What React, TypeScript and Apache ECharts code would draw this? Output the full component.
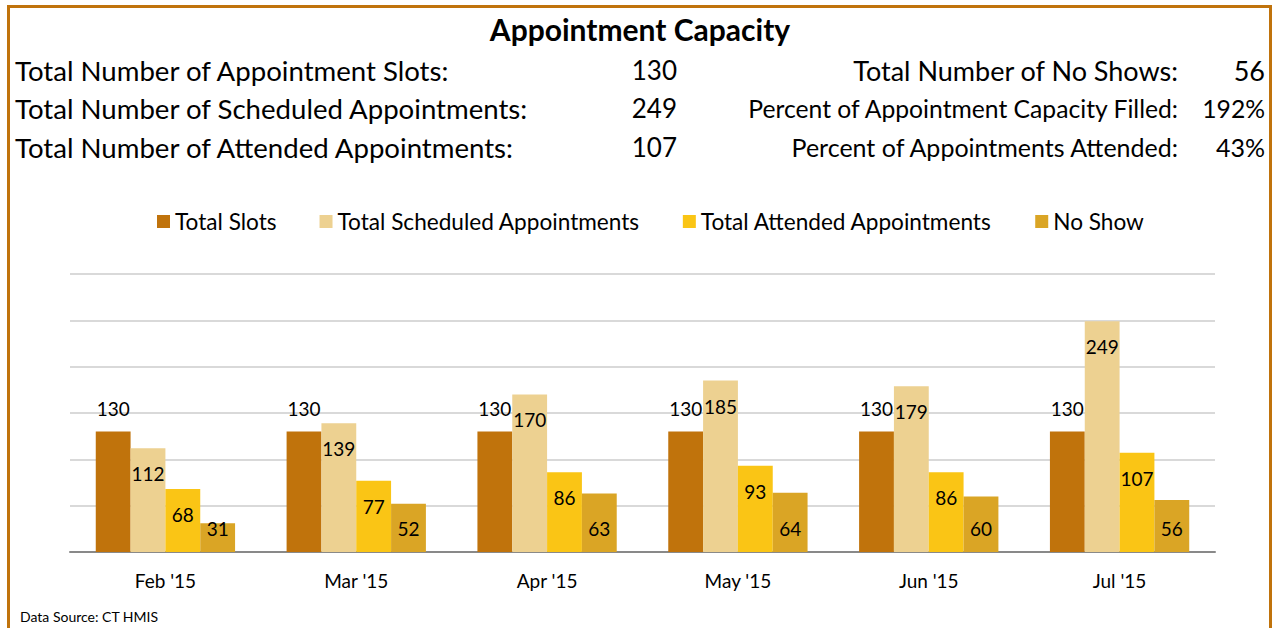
import React, { useEffect, useRef } from "react";
import * as echarts from "echarts";

const categories = ["Feb '15", "Mar '15", "Apr '15", "May '15", "Jun '15", "Jul '15"];
const totalSlots = [130, 130, 130, 130, 130, 130];
const scheduled = [112, 139, 170, 185, 179, 249];
const attended = [68, 77, 86, 93, 86, 107];
const noShow = [31, 52, 63, 64, 60, 56];

const seriesNames = ["Total Slots", "Total Scheduled Appointments", "Total Attended Appointments", "No Show"];
const colors = ["#C0730C", "#EDD191", "#FAC515", "#DAA525"];

const statsLeft = [
  ["Total Number of Appointment Slots:", "130"],
  ["Total Number of Scheduled Appointments:", "249"],
  ["Total Number of Attended Appointments:", "107"],
];
const statsRight = [
  ["Total Number of No Shows:", "56"],
  ["Percent of Appointment Capacity Filled:", "192%"],
  ["Percent of Appointments Attended:", "43%"],
];

const FONT = "Lato, 'Noto Sans', sans-serif";

export default function App() {
  const ref = useRef<HTMLDivElement>(null);
  useEffect(() => {
    const chart = echarts.init(ref.current!, null, { renderer: "svg" });
    const rowsY = [70, 108, 147];
    const rightSizes = [27, 24.7, 25];
    const graphics: any[] = [
      {
        type: "rect",
        shape: { x: 8.5, y: 6.5, width: 1262, height: 640 },
        style: { fill: "none", stroke: "#C0730C", lineWidth: 3 },
      },
      {
        type: "text",
        x: 640,
        y: 29,
        style: {
          text: "Appointment Capacity",
          font: `bold 30px ${FONT}`,
          fill: "#000",
          align: "center",
          verticalAlign: "middle",
        },
      },
    ];
    statsLeft.forEach(([label, val], i) => {
      graphics.push({
        type: "text",
        x: 15,
        y: rowsY[i],
        style: { text: label, font: `27.6px ${FONT}`, fill: "#000", align: "left", verticalAlign: "middle" },
      });
      graphics.push({
        type: "text",
        x: 677,
        y: rowsY[i],
        style: { text: val, font: `26px ${FONT}`, fill: "#000", align: "right", verticalAlign: "middle" },
      });
    });
    statsRight.forEach(([label, val], i) => {
      graphics.push({
        type: "text",
        x: 1178,
        y: rowsY[i],
        style: { text: label, font: `${rightSizes[i]}px ${FONT}`, fill: "#000", align: "right", verticalAlign: "middle" },
      });
      graphics.push({
        type: "text",
        x: 1265,
        y: rowsY[i],
        style: { text: val, font: `${rightSizes[i]}px ${FONT}`, fill: "#000", align: "right", verticalAlign: "middle" },
      });
    });
    graphics.push({
      type: "text",
      x: 20,
      y: 616,
      style: { text: "Data Source: CT HMIS", font: `14px ${FONT}`, fill: "#000", align: "left", verticalAlign: "middle" },
    });

    const dataSets = [totalSlots, scheduled, attended, noShow];
    const positions = ["top", "insideTop", "insideTop", "insideBottom"];
    const distances = [14, 16, 16, 14];
    chart.setOption({
      animation: false,
      color: colors,
      textStyle: { fontFamily: FONT },
      legend: {
        top: 205,
        left: 152,
        itemWidth: 13,
        itemHeight: 13,
        itemGap: 43,
        icon: "rect",
        textStyle: { fontSize: 22.6, color: "#000", fontFamily: FONT },
        data: seriesNames,
      },
      grid: { left: 70, right: 67, top: 274, bottom: 76 },
      xAxis: {
        type: "category",
        data: categories,
        axisTick: { show: false },
        axisLine: { lineStyle: { color: "#898989", width: 2 } },
        axisLabel: { fontSize: 19, color: "#000", margin: 19, fontFamily: FONT },
      },
      yAxis: {
        type: "value",
        min: 0,
        max: 300,
        interval: 50,
        axisLabel: { show: false },
        axisLine: { show: false },
        axisTick: { show: false },
        splitLine: { lineStyle: { color: "#D9D9D9", width: 2 } },
      },
      series: dataSets.map((d, i) => ({
        name: seriesNames[i],
        type: "bar",
        data: d,
        barGap: "0%",
        barCategoryGap: "27%",
        itemStyle: { color: colors[i] },
        label: {
          show: true,
          position: positions[i],
          distance: distances[i],
          fontSize: 19,
          color: "#000",
          fontFamily: FONT,
        },
      })),
      graphic: graphics,
    });
    return () => chart.dispose();
  }, []);
  return <div ref={ref} style={{ width: 1282, height: 628, position: "absolute", left: 0, top: 0, background: "#fff" }} />;
}
